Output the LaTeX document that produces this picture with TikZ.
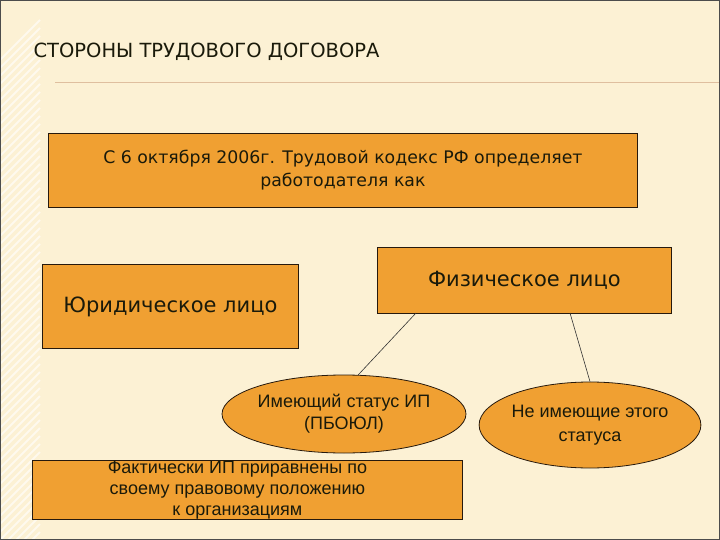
\documentclass[tikz,border=0pt]{standalone}
\usepackage{fontspec}
\setmainfont{DejaVu Sans}
\newfontfamily\arialf{Liberation Sans}
\usetikzlibrary{shapes.geometric}
\definecolor{bg}{HTML}{FCF1D4}
\definecolor{org}{HTML}{F0A032}
\definecolor{txt}{HTML}{1A1A0A}
\begin{document}
\begin{tikzpicture}[x=1pt,y=-1pt,
  box/.style={draw=black!80!brown,line width=0.8pt,fill=org,text=txt,align=center,inner sep=0pt,anchor=north west},
  ell/.style={ellipse,draw=black!80!brown,line width=0.8pt,fill=org,text=txt,align=center,inner sep=0pt,font=\arialf\fontsize{18}{24}\selectfont},
  conn/.style={draw=black!80,line width=0.6pt}]
\useasboundingbox (0,0) rectangle (720,540);
\fill[bg] (0,0) rectangle (720,540);
\foreach \i in {0,8,...,520} {\draw[white!60!bg,line width=2pt] (0,\i+60) -- (40,\i+20);}
\draw[brown!50,line width=1pt] (55,83) -- (720,83);
\draw[black!70,line width=0.8pt] (0.5,0.5) rectangle (719.5,539.5);
\node[anchor=west,text=txt,font=\fontsize{19.5}{23}\selectfont] (title) at (30,52) {СТОРОНЫ ТРУДОВОГО ДОГОВОРА};
\node[box,minimum width=589,minimum height=74,font=\fontsize{17.3}{23}\selectfont] (top) at (48,133) {С 6 октября 2006г. Трудовой кодекс РФ определяет\\работодателя как};
\node[box,minimum width=256,minimum height=84,font=\fontsize{21}{24}\selectfont] (jur) at (42,264) {Юридическое лицо};
\node[box,minimum width=294,minimum height=66,font=\fontsize{21}{24}\selectfont] (fiz) at (377,247) {\raisebox{-8pt}{Физическое лицо}};
\node[ell,minimum width=228,minimum height=78] (ip) at (344,414) {\raisebox{-4pt}{Имеющий статус ИП}\\\raisebox{-2pt}{(ПБОЮЛ)}};
\node[ell,minimum width=200,minimum height=86] (nip) at (590,425) {Не имеющие этого\\статуса};
\node[box,minimum width=430,minimum height=59,font=\arialf\fontsize{18}{21}\selectfont,align=center] (fact) at (32,460) {\hspace*{-20pt}Фактически ИП приравнены по\\\hspace*{-20pt}своему правовому положению\\\hspace*{-20pt}к организациям};
\coordinate (f1) at (416,313);
\coordinate (f2) at (570,313);
\draw[conn] (f1) -- (ip.70);
\draw[conn] (f2) -- (nip.north);
\end{tikzpicture}
\end{document}
